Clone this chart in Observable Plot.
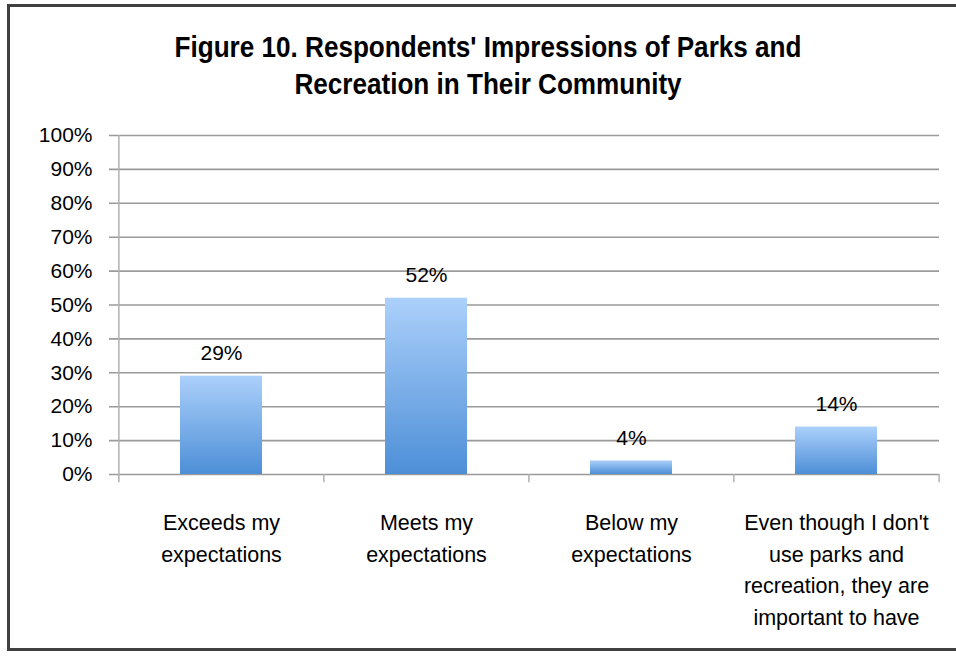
<!DOCTYPE html>
<html>
<head>
<meta charset="utf-8">
<script src="https://cdn.jsdelivr.net/npm/d3@7"></script>
<script src="https://cdn.jsdelivr.net/npm/@observablehq/plot@0.6"></script>
<style>
  html, body { margin: 0; padding: 0; background: #fff; }
  #page { position: relative; width: 956px; height: 656px; overflow: hidden; font-family: "Liberation Sans", Arial, sans-serif; }
  #frame { position: absolute; left: 7px; top: 4px; width: 960px; height: 647px; border: 3px solid #404040; border-right: none; box-sizing: border-box; pointer-events: none; }
  #title { position: absolute; left: 0; top: 0; width: 976px; height: 120px; text-align: center; font-family: "Liberation Sans", Arial, sans-serif; font-weight: bold; font-size: 29px; line-height: 37px; color: #000; padding-top: 29px; box-sizing: border-box; transform: scaleX(0.9); transform-origin: 488px 0; }
  #chart { position: absolute; left: 0; top: 120px; }
</style>
</head>
<body>
<div id="page">
  <div id="title">Figure 10. Respondents' Impressions of Parks and<br>Recreation in Their Community</div>
  <div id="chart"></div>
  <div id="frame"></div>
</div>
<script>
const categories = [
  "Exceeds my\nexpectations",
  "Meets my\nexpectations",
  "Below my\nexpectations",
  "Even though I don't\nuse parks and\nrecreation, they are\nimportant to have"
];
const values = [0.29, 0.52, 0.04, 0.14];
const valueLabels = ["29%", "52%", "4%", "14%"];
const yTicks = [0, 0.1, 0.2, 0.3, 0.4, 0.5, 0.6, 0.7, 0.8, 0.9, 1.0];

const data = categories.map((c, i) => ({category: c, value: values[i], label: valueLabels[i]}));

const width = 956, height = 536;
const marginLeft = 118, marginRight = 17;
const step = (width - marginLeft - marginRight) / 4;

const plot = Plot.plot({
  width, height,
  marginTop: 15, marginBottom: 182, marginLeft, marginRight,
  style: {fontFamily: "'Liberation Sans', Arial, sans-serif", fontSize: "21px", color: "#000", background: "#fff"},
  x: {domain: categories, paddingInner: 0.6, paddingOuter: 0.3, axis: null},
  y: {domain: [0, 1], axis: null},
  marks: [
    Plot.ruleY(yTicks, {y: d => d, stroke: "#9a9a9a", strokeWidth: 1.6, insetLeft: -9}),
    Plot.ruleX([0], {x: () => categories[0], dx: -step / 2, y1: -0.024, y2: 1, stroke: "#b0b0b0", strokeWidth: 1.5}),
    Plot.ruleX(categories.slice(1), {x: d => d, dx: -step / 2, y1: -0.024, y2: 0, stroke: "#b0b0b0", strokeWidth: 1.5}),
    Plot.ruleX([categories[3]], {x: d => d, dx: step / 2, y1: -0.024, y2: 0, stroke: "#b0b0b0", strokeWidth: 1.5}),
    Plot.barY(data, {x: "category", y: "value", fill: "url(#barGrad)"}),
    Plot.text(data, {x: "category", y: "value", text: "label", dy: -23, lineAnchor: "middle", fill: "#000", fontSize: 21}),
    Plot.axisY(yTicks, {tickFormat: d => Math.round(d * 100) + "%", tickSize: 0, tickPadding: 26, fill: "#000", fontSize: 21, stroke: "none", label: null}),
    Plot.text(data, {x: "category", frameAnchor: "bottom", text: "category", dy: 33, lineAnchor: "top", lineHeight: 1.47, fill: "#000", fontSize: 21.5})
  ]
});

const ns = "http://www.w3.org/2000/svg";
const defs = document.createElementNS(ns, "defs");
defs.innerHTML = '<linearGradient id="barGrad" x1="0" y1="0" x2="0" y2="1"><stop offset="0" stop-color="#acd0fb"/><stop offset="1" stop-color="#4d8fd7"/></linearGradient>';
plot.insertBefore(defs, plot.firstChild);
document.getElementById("chart").appendChild(plot);
</script>
</body>
</html>
